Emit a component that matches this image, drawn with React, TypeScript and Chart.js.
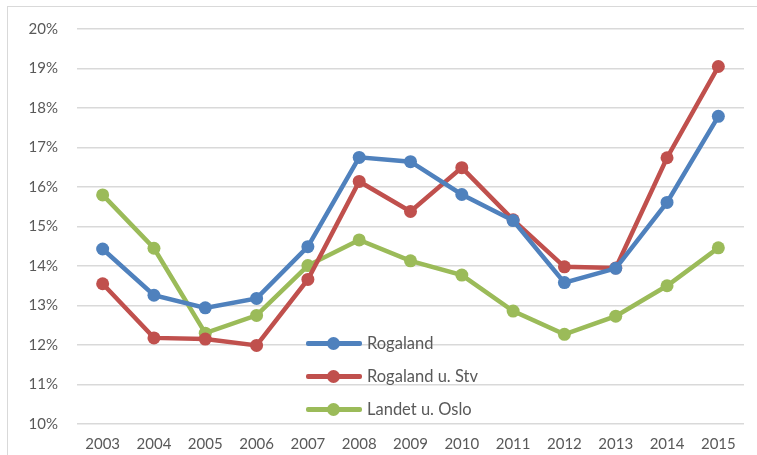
import React, { useEffect, useRef } from "react";
import { Chart, registerables } from "chart.js";

Chart.register(...registerables);

const years = ["2003", "2004", "2005", "2006", "2007", "2008", "2009", "2010", "2011", "2012", "2013", "2014", "2015"];
const rogaland = [14.43, 13.26, 12.94, 13.18, 14.49, 16.75, 16.64, 15.81, 15.15, 13.58, 13.94, 15.61, 17.79];
const rogalandUStv = [13.55, 12.18, 12.15, 11.99, 13.66, 16.14, 15.38, 16.49, 15.17, 13.98, 13.95, 16.74, 19.05];
const landetUOslo = [15.8, 14.45, 12.3, 12.75, 14.01, 14.66, 14.13, 13.77, 12.86, 12.27, 12.73, 13.5, 14.46];
const seriesNames = ["Rogaland", "Rogaland u. Stv", "Landet u. Oslo"];
const seriesColors = ["#4F81BD", "#C0504D", "#9BBB59"];

const FONT = "Lato, 'Liberation Sans', sans-serif";

export default function App() {
  const ref = useRef<HTMLCanvasElement | null>(null);
  useEffect(() => {
    const values = [rogaland, rogalandUStv, landetUOslo];
    const chart = new Chart(ref.current!, {
      type: "line",
      data: {
        labels: years,
        datasets: values.map((d, i) => ({
          label: seriesNames[i],
          data: d,
          borderColor: seriesColors[i],
          backgroundColor: seriesColors[i],
          pointBackgroundColor: seriesColors[i],
          pointBorderColor: seriesColors[i],
          borderWidth: 4.5,
          pointRadius: 6.5,
          pointBorderWidth: 0,
          tension: 0,
          fill: false,
        })),
      },
      options: {
        animation: false,
        responsive: false,
        maintainAspectRatio: false,
        layout: { padding: { top: 29, right: 13, left: 0, bottom: 0 } },
        plugins: { legend: { display: false }, tooltip: { enabled: false }, title: { display: false } },
        scales: {
          x: {
            offset: true,
            grid: { display: false, drawTicks: false },
            border: { display: false },
            ticks: { color: "#595959", font: { family: FONT, size: 15 }, padding: 11, maxRotation: 0, autoSkip: false },
            afterFit: (s: any) => { s.height = 31; },
          },
          y: {
            min: 10,
            max: 20,
            ticks: {
              stepSize: 1,
              color: "#595959",
              font: { family: FONT, size: 15 },
              padding: 19,
              callback: (v: any) => v + "%",
            },
            grid: { color: "#d9d9d9", lineWidth: 1.5, drawTicks: false },
            border: { display: false },
            afterFit: (s: any) => { s.width = 77; },
          },
        },
      },
    });
    return () => chart.destroy();
  }, []);

  const legendRows = [343, 376, 409];
  return (
    <div style={{ position: "fixed", left: 0, top: 0, width: 757, height: 455, background: "#fff", overflow: "hidden" }}>
      <div style={{ position: "absolute", left: 7, top: 6, width: 800, height: 500, border: "1px solid #d9d9d9", boxSizing: "border-box" }} />
      <canvas ref={ref} width={757} height={455} style={{ position: "absolute", left: 0, top: 0, width: 757, height: 455 }} />
      {seriesNames.map((n, i) => (
        <div key={n} style={{ position: "absolute", left: 306, top: legendRows[i] - 12, height: 24, width: 200 }}>
          <div style={{ position: "absolute", left: 0, top: 10, width: 56, height: 4.5, borderRadius: 2, background: seriesColors[i] }} />
          <div style={{ position: "absolute", left: 21, top: 5.5, width: 13, height: 13, borderRadius: 7, background: seriesColors[i] }} />
          <div style={{ position: "absolute", left: 61, top: 0, lineHeight: "24px", fontFamily: FONT, fontSize: 16.5, color: "#595959", whiteSpace: "nowrap" }}>{n}</div>
        </div>
      ))}
    </div>
  );
}
